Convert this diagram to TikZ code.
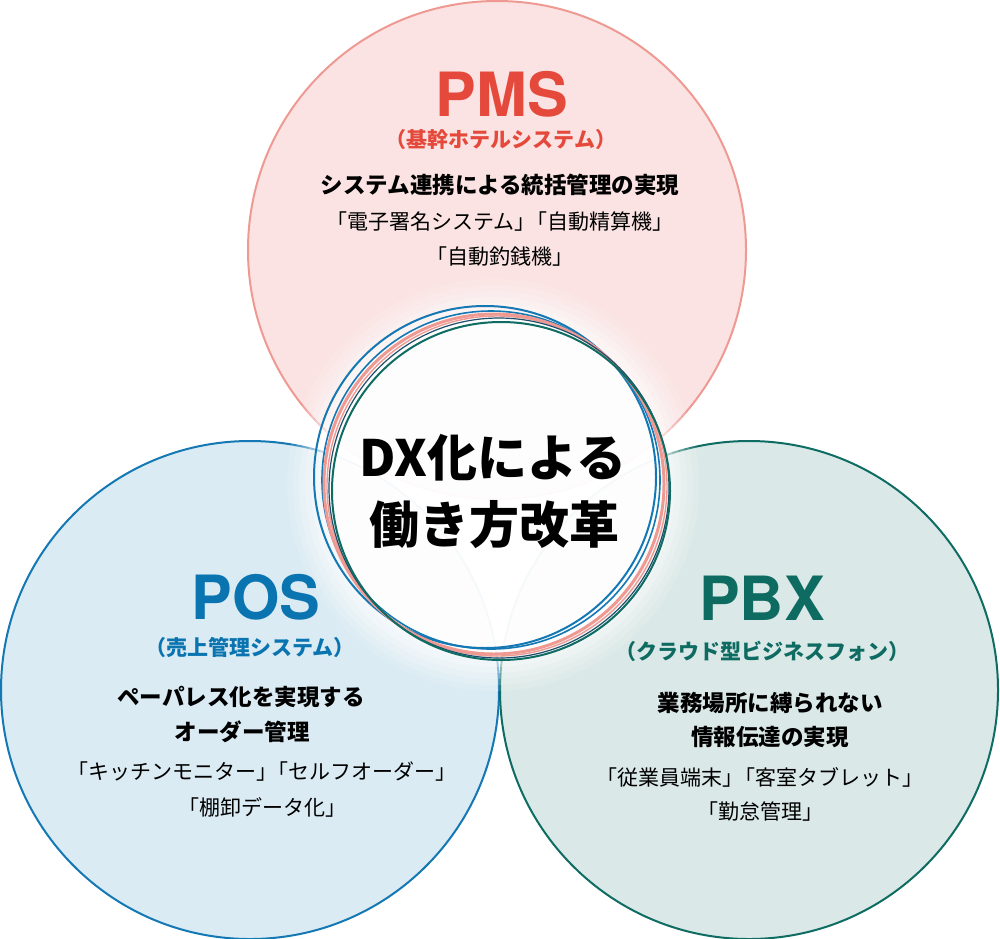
\documentclass[tikz,border=0pt]{standalone}
\usepackage{fontspec}
\setmainfont{Noto Sans CJK JP}
\newfontfamily\heros{TeX Gyre Heros}

\definecolor{pmsfill}{HTML}{FAE3E2}
\definecolor{pmsline}{HTML}{EE9A93}
\definecolor{pmsred}{HTML}{E5493C}
\definecolor{posfill}{HTML}{DAEBF3}
\definecolor{posline}{HTML}{1478B4}
\definecolor{posblue}{HTML}{0A74B1}
\definecolor{pbxfill}{HTML}{DAE9E7}
\definecolor{pbxline}{HTML}{0E6C62}
\definecolor{pbxgreen}{HTML}{0E6B61}
\definecolor{ringdark}{HTML}{1F4D6B}

\tikzset{
  every node/.style={inner sep=0pt},
  pmstitle/.style={font=\heros\bfseries\fontsize{61}{61}\selectfont, text=pmsred},
  postitle/.style={font=\heros\bfseries\fontsize{61}{61}\selectfont, text=posblue},
  pbxtitle/.style={font=\heros\bfseries\fontsize{61}{61}\selectfont, text=pbxgreen},
  pmssub/.style={font=\bfseries\fontsize{21}{21}\selectfont, text=pmsred},
  possub/.style={font=\bfseries\fontsize{21}{21}\selectfont, text=posblue},
  pbxsub/.style={font=\bfseries\fontsize{21}{21}\selectfont, text=pbxgreen},
  lead/.style={font=\bfseries\fontsize{22.5}{22.5}\selectfont},
  item/.style={font=\fontsize{21}{21}\selectfont},
  centre/.style={font=\bfseries\fontsize{50}{50}\selectfont}
}
\def\gap{\kern-.45em}

\begin{document}
\begin{tikzpicture}[x=1pt, y=-1pt]

  \useasboundingbox (0,0) rectangle (1000,938);

  \def\r{249};

  %draw circles
  \coordinate (pms) at (497,250);
  \coordinate (pos) at (250,690);
  \coordinate (pbx) at (749,690);
  \coordinate (dx) at (493,485);

    \foreach \name/\fc/\lc in {pms/pmsfill/pmsline, pos/posfill/posline, pbx/pbxfill/pbxline}{
        \fill[color=\fc] (\name) circle [radius=\r];
        \draw[color=\lc, line width=2pt] (\name) circle [radius=\r];
    }

  %glow
    \foreach \rr/\op in {206/0.12, 200/0.15, 194/0.18, 188/0.22, 182/0.25, 176/0.3}{
        \fill[white, opacity=\op] (dx) circle [radius=\rr];
    }
      \fill[white, opacity=0.85] (dx) circle [radius=170];

  %rings
    \foreach \cx/\cy/\rr/\cl/\w in {485/477/171/posline/2, 491/480/169/posline/1.6, 494/484/170/pmsline/3, 497/486/170/pmsline/1.4, 499/488/170/ringdark/1.2, 501/491/169/pbxline/2}{
        \draw[color=\cl, line width=\w pt] (\cx,\cy) circle [radius=\rr];
    }

  %draw texts
    \foreach \x/\y/\st/\txt/\name in {502/94/pmstitle/PMS/pmsname, 501/140/pmssub/（基幹ホテルシステム）/pmssub, 500/185/lead/システム連携による統括管理の実現/pmslead, 500/222/item/「電子署名システム」\gap「自動精算機」/pmsitem1, 500/257/item/「自動釣銭機」/pmsitem2}{
        \node[\st] (\name) at (\x,\y) {\txt};
    }

    \foreach \x/\y/\st/\txt/\name in {256/597/postitle/POS/posname, 250/647/possub/（売上管理システム）/possub, 241/697/lead/ペーパレス化を実現する/poslead1, 242/732/lead/オーダー管理/poslead2, 262/772/item/「キッチンモニター」\gap「セルフオーダー」/positem1, 262/807/item/「棚卸データ化」/positem2}{
        \node[\st] (\name) at (\x,\y) {\txt};
    }

    \foreach \x/\y/\st/\txt/\name in {762/598/pbxtitle/PBX/pbxname, 762/651/pbxsub/（クラウド型ビジネスフォン）/pbxsub, 770/703/lead/業務場所に縛られない/pbxlead1, 770/737/lead/情報伝達の実現/pbxlead2, 760/777/item/「従業員端末」\gap「客室タブレット」/pbxitem1, 760/812/item/「勤怠管理」/pbxitem2}{
        \node[\st] (\name) at (\x,\y) {\txt};
    }

 \node[centre] (dx1) at (493,458) {DX化による};
 \node[centre] (dx2) at (494,525) {働き方改革};

\end{tikzpicture}
\end{document}
